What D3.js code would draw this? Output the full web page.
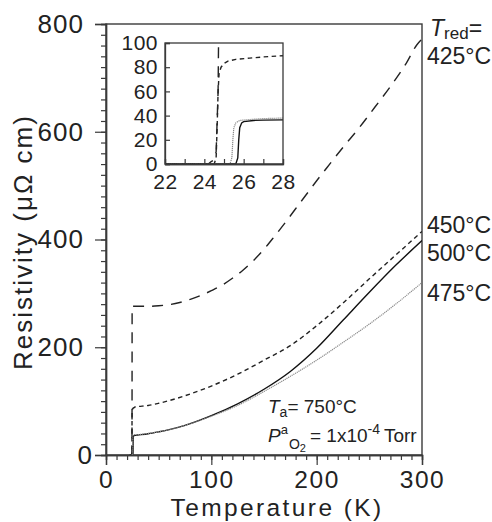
<!DOCTYPE html>
<html>
<head>
<meta charset="utf-8">
<script src="https://cdn.jsdelivr.net/npm/d3@7"></script>
<style>
  html, body { margin: 0; padding: 0; background: #fff; }
  svg { display: block; }
  text { font-family: "Liberation Sans", Arial, Helvetica, sans-serif; fill: #222; }
</style>
</head>
<body>
<svg id="chart" width="492" height="522"></svg>
<script>
// Resistivity vs temperature for films reduced at different temperatures
// Each series: [temperature (K), resistivity (µΩ cm)]
const res425 = [[22,0],[24.2,0],[24.35,2],[24.45,3],[24.6,10],[24.7,60],[24.75,150],[24.8,276],[26,276],[30,276],[40,276],[50,277],[60,279],[70,283],[80,289],[90,296],[100,305],[110,315],[120,328],[130,343],[140,361],[150,382],[160,406],[170,431],[180,457],[190,483],[200,509],[212,539],[225,571],[241,609],[255,645],[270,684],[285,727],[295,761],[300,772]];
const res450 = [[22,0],[24.5,0],[24.6,5],[24.65,30],[24.7,60],[24.75,75],[24.85,80],[25,83],[25.2,85],[25.6,86.5],[26.3,87.5],[27,88.5],[28,89.5],[30,90],[40,92],[50,96],[60,101],[75,110],[100,128],[125,150],[150,176],[175,203],[200,240],[225,282],[250,327],[275,371],[300,415]];
const res500 = [[22,0],[25.6,0],[25.7,5],[25.75,20],[25.8,30],[25.9,34],[26,35],[26.5,36],[27,36.3],[28,36.5],[30,37],[40,39.5],[50,43],[60,47],[75,55],[100,73],[125,95],[150,122],[175,155],[200,198],[225,250],[250,302],[275,352],[300,398]];
const res475 = [[22,0],[25.3,0],[25.4,5],[25.45,20],[25.5,30],[25.6,34],[25.8,36],[26.5,37],[27,37.5],[28,38],[30,38],[40,40],[50,43],[60,47],[75,55],[100,72],[125,92],[150,118],[175,146],[200,176],[225,209],[250,243],[275,280],[300,320]];

const seriesNames = ["425°C", "450°C", "500°C", "475°C"];
const xTicks = [0, 100, 200, 300];
const yTicks = [0, 200, 400, 600, 800];
const insetXTicks = [22, 24, 26, 28];
const insetYTicks = [0, 20, 40, 60, 80, 100];

const series = [
  { name: "425°C", data: res425, dash: "11,8", color: "#222", width: 1.4 },
  { name: "450°C", data: res450, dash: "4.5,3.5", color: "#222", width: 1.4 },
  { name: "500°C", data: res500, dash: null, color: "#111", width: 1.4 },
  { name: "475°C", data: res475, dash: "1.2,0.8", color: "#8a8a8a", width: 1.2 }
];

const svg = d3.select("#chart");
const axisColor = "#3a3a3a";
const fontFam = '"Liberation Sans", Arial, sans-serif';

// ---- main panel ----
const x = d3.scaleLinear().domain([0, 300]).range([106, 422]);
const y = d3.scaleLinear().domain([0, 800]).range([455, 24]);

const line = d3.line().curve(d3.curveMonotoneX).x(d => x(d[0])).y(d => y(d[1]));

svg.append("defs").append("clipPath").attr("id", "mainClip")
  .append("rect").attr("x", x(0)).attr("y", y(800)).attr("width", x(300) - x(0)).attr("height", y(0) - y(800));

// frame
svg.append("rect")
  .attr("x", x(0)).attr("y", y(800))
  .attr("width", x(300) - x(0)).attr("height", y(0) - y(800))
  .attr("fill", "none").attr("stroke", axisColor).attr("stroke-width", 1.4);

// bottom axis: minor ticks every 10 K, labelled every 100 K
const xAxisMinor = d3.axisBottom(x).tickValues(d3.range(0, 301, 10)).tickSize(5).tickFormat("");
const xAxisMajor = d3.axisBottom(x).tickValues(xTicks).tickSize(10).tickPadding(6).tickFormat(d3.format("d"));
const gxm = svg.append("g").attr("transform", `translate(0,${y(0)})`).call(xAxisMinor);
const gx = svg.append("g").attr("transform", `translate(0,${y(0)})`).call(xAxisMajor);
[gxm, gx].forEach(g => {
  g.select(".domain").attr("stroke", axisColor).attr("stroke-width", 1.4);
  g.selectAll(".tick line").attr("stroke", axisColor).attr("stroke-width", 1.2);
});
gx.selectAll(".tick text").attr("font-size", 24.5).attr("fill", "#222")
  .attr("letter-spacing", 1.6).style("font-family", fontFam);

// left axis: minor ticks every 20, labelled every 200
const yAxisMinor = d3.axisLeft(y).tickValues(d3.range(0, 801, 20)).tickSize(5).tickFormat("");
const yAxisMajor = d3.axisLeft(y).tickValues(yTicks).tickSize(11).tickPadding(3).tickFormat(d3.format("d"));
const gym = svg.append("g").attr("transform", `translate(${x(0)},0)`).call(yAxisMinor);
const gy = svg.append("g").attr("transform", `translate(${x(0)},0)`).call(yAxisMajor);
[gym, gy].forEach(g => {
  g.select(".domain").attr("stroke", axisColor).attr("stroke-width", 1.4);
  g.selectAll(".tick line").attr("stroke", axisColor).attr("stroke-width", 1.2);
});
gy.selectAll(".tick text")
  .attr("font-size", 26).attr("fill", "#222").attr("letter-spacing", 1)
  .attr("x", d => d === 0 ? -13 : -22)
  .style("font-family", fontFam);

// curves
const curves = svg.append("g").attr("clip-path", "url(#mainClip)");
series.forEach(s => {
  curves.append("path")
    .datum(s.data)
    .attr("d", line)
    .attr("fill", "none")
    .attr("stroke", s.color)
    .attr("stroke-width", s.width)
    .attr("stroke-dasharray", s.dash);
});

// axis titles
svg.append("text")
  .attr("x", 277).attr("y", 516)
  .attr("text-anchor", "middle").attr("font-size", 24.5).attr("letter-spacing", 2.4)
  .text("Temperature (K)");
svg.append("text")
  .attr("transform", "translate(32,242) rotate(-90)")
  .attr("text-anchor", "middle").attr("font-size", 26).attr("letter-spacing", 2)
  .text("Resistivity (μΩ cm)");

// series labels on the right
const tred = svg.append("text").attr("x", 430).attr("y", 36).attr("font-size", 23);
tred.append("tspan").attr("font-style", "italic").text("T");
tred.append("tspan").attr("font-size", 17).attr("dy", 3).text("red");
tred.append("tspan").attr("dy", -3).text("=");

const labelY = { "425°C": 64, "450°C": 233, "500°C": 261, "475°C": 301 };
seriesNames.forEach(n => {
  svg.append("text").attr("x", 427).attr("y", labelY[n]).attr("font-size", 23).text(n);
});

// annealing conditions
const ta = svg.append("text").attr("x", 268).attr("y", 413).attr("font-size", 19);
ta.append("tspan").attr("font-style", "italic").text("T");
ta.append("tspan").attr("font-size", 14).attr("dy", 4).text("a");
ta.append("tspan").attr("dy", -4).text("= 750°C");

const pa = svg.append("text").attr("x", 268).attr("y", 442).attr("font-size", 19);
pa.append("tspan").attr("font-style", "italic").text("P");
pa.append("tspan").attr("font-size", 13).attr("dy", -8).text("a");
pa.append("tspan").attr("font-size", 14).attr("dy", 15).attr("dx", 1).text("O");
pa.append("tspan").attr("font-size", 11).attr("dy", 3).text("2");
pa.append("tspan").attr("dy", -10).attr("dx", 4).text("= 1x10");
pa.append("tspan").attr("font-size", 14).attr("dy", -8).text("-4");
pa.append("tspan").attr("dy", 8).attr("dx", 4).text("Torr");

// ---- inset: transition region ----
const xi = d3.scaleLinear().domain([22, 28]).range([165, 283]);
const yi = d3.scaleLinear().domain([0, 100]).range([164, 43]);
const lineI = d3.line().x(d => xi(d[0])).y(d => yi(d[1]));

svg.append("defs").append("clipPath").attr("id", "insetClip")
  .append("rect").attr("x", xi(22)).attr("y", yi(100)).attr("width", xi(28) - xi(22)).attr("height", yi(0) - yi(100));

svg.append("rect")
  .attr("x", xi(22)).attr("y", yi(100))
  .attr("width", xi(28) - xi(22)).attr("height", yi(0) - yi(100))
  .attr("fill", "#fff");

const insetCurves = svg.append("g").attr("clip-path", "url(#insetClip)");
series.forEach(s => {
  insetCurves.append("path")
    .datum(s.data.filter(d => d[0] <= 30))
    .attr("d", lineI)
    .attr("fill", "none")
    .attr("stroke", s.color)
    .attr("stroke-width", s.width)
    .attr("stroke-dasharray", s.dash);
});

svg.append("rect")
  .attr("x", xi(22)).attr("y", yi(100))
  .attr("width", xi(28) - xi(22)).attr("height", yi(0) - yi(100))
  .attr("fill", "none").attr("stroke", axisColor).attr("stroke-width", 1.3);

// inward ticks on the inset
const gix = svg.append("g").attr("transform", `translate(0,${yi(0)})`)
  .call(d3.axisBottom(xi).tickValues(d3.range(22, 28.01, 1)).tickSize(-5).tickFormat(""));
const gixl = svg.append("g").attr("transform", `translate(0,${yi(0)})`)
  .call(d3.axisBottom(xi).tickValues(insetXTicks).tickSize(0).tickPadding(10).tickFormat(d3.format("d")));
const giy = svg.append("g").attr("transform", `translate(${xi(22)},0)`)
  .call(d3.axisLeft(yi).tickValues(insetYTicks).tickSize(-5).tickPadding(7).tickFormat(d3.format("d")));
[gix, gixl, giy].forEach(g => {
  g.select(".domain").attr("stroke", axisColor).attr("stroke-width", 1.3);
  g.selectAll(".tick line").attr("stroke", axisColor).attr("stroke-width", 1.2);
  g.selectAll(".tick text").attr("font-size", 21).attr("fill", "#222").attr("letter-spacing", 0.5)
    .style("font-family", fontFam);
});
</script>
</body>
</html>
